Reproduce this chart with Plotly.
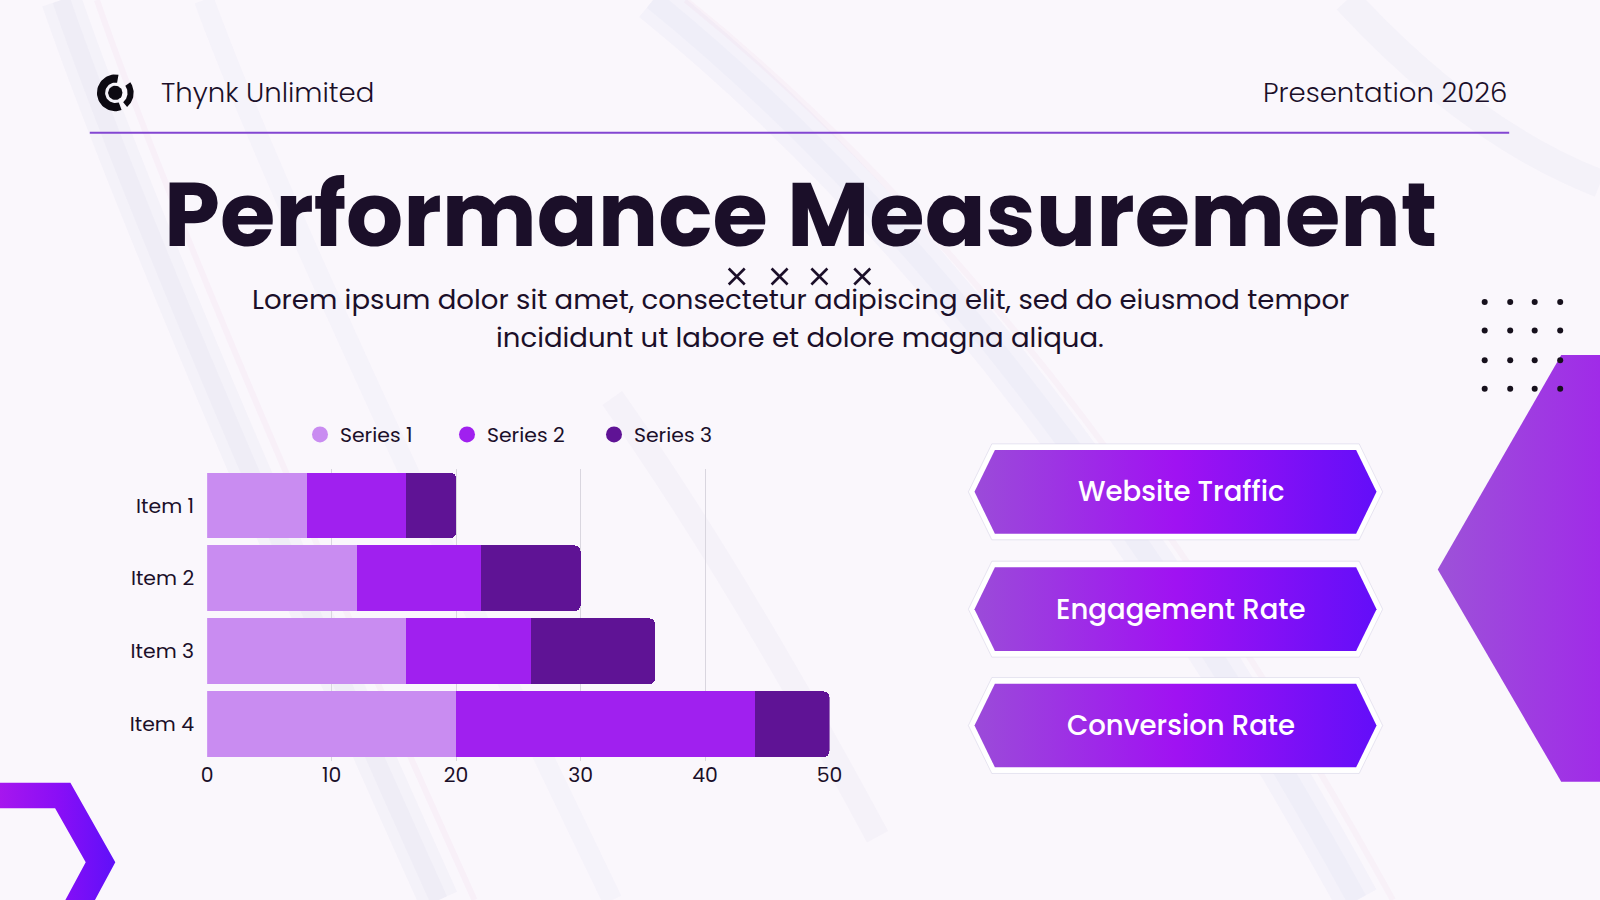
import numpy as np
import plotly.graph_objects as go

# slide grid used for placing decorations (mapped onto the 1600x900 canvas)
W, H = 1568, 882
S = 1600 / W

# chart data
items = ["Item 1", "Item 2", "Item 3", "Item 4"]
series_names = ["Series 1", "Series 2", "Series 3"]
series_1 = [8, 12, 16, 20]
series_2 = [8, 10, 10, 24]
series_3 = [4, 8, 10, 6]
series_colors = ["#c98cf1", "#a020ef", "#5f1395"]
x_ticks = [0, 10, 20, 30, 40, 50]

# right-hand cards
cards = ["Website Traffic", "Engagement Rate", "Conversion Rate"]
card_tops = [441, 556, 670]

FONT = "Poppins, Inter, Lato, sans-serif"
INK = "#1b0f29"


def fx(px):
    return px / W


def fy(py):
    return 1 - py / H


fig = go.Figure()

# stacked bars
for name, vals, col in zip(series_names, [series_1, series_2, series_3], series_colors):
    fig.add_trace(go.Bar(y=items, x=vals, name=name, orientation="h",
                         marker=dict(color=col, line=dict(width=0)),
                         showlegend=False, hoverinfo="x+name"))
# legend entries with round swatches
for name, col in zip(series_names, series_colors):
    fig.add_trace(go.Scatter(x=[None], y=[None], mode="markers", name=name,
                             marker=dict(color=col, size=20, symbol="circle")))


def poly(xs, ys, **kw):
    fig.add_trace(go.Scatter(x=xs + [xs[0]], y=ys + [ys[0]], xaxis="x2", yaxis="y2",
                             mode="lines", fill="toself", line=dict(width=0),
                             hoverinfo="skip", showlegend=False, **kw))


# cards: white halo + gradient hexagon
card_grad = [[0, "#9b4bd9"], [0.5, "#a012f2"], [1, "#630ef9"]]
for top in card_tops:
    mid, bot = top + 41, top + 82
    poly([949, 972, 1332, 1355, 1332, 972], [mid, top - 6, top - 6, mid, bot + 6, bot + 6],
         fillcolor="rgba(255,255,255,0.95)")
    fig.add_trace(go.Scatter(x=[949, 972, 1332, 1355, 1332, 972, 949],
                             y=[mid, top - 6, top - 6, mid, bot + 6, bot + 6, mid],
                             xaxis="x2", yaxis="y2", mode="lines",
                             line=dict(color="rgba(205,200,225,0.45)", width=1),
                             hoverinfo="skip", showlegend=False))
    poly([955, 975, 1329, 1349, 1329, 975], [mid, top, top, mid, bot, bot],
         fillgradient=dict(type="horizontal", colorscale=card_grad, start=955, stop=1349))

# big hexagon on the right edge
poly([W + 2, 1530, 1409, 1530, W + 2], [348, 348, 558, 766, 766],
     fillgradient=dict(type="horizontal", colorscale=[[0, "#9d52d8"], [1, "#a02be8"]],
                       start=1409, stop=W))

# chevron bottom-left
poly([-2, 69, 113, 92, 63, 84, 54, -2], [767, 767, 845, 884, 884, 845, 792, 792],
     fillgradient=dict(type="horizontal", colorscale=[[0, "#a617ee"], [0.5, "#8a0ef6"], [1, "#5f10f9"]],
                       start=0, stop=113))

# dot grid
dot_x = [1455, 1480, 1504, 1529]
dot_y = [296, 324, 353, 381]
gx, gy = np.meshgrid(dot_x, dot_y)
fig.add_trace(go.Scatter(x=gx.ravel(), y=gy.ravel(), xaxis="x2", yaxis="y2", mode="markers",
                         marker=dict(color="#16101c", size=6), hoverinfo="skip", showlegend=False))

# x marks under title
fig.add_trace(go.Scatter(x=[722, 764, 803, 845], y=[271] * 4, xaxis="x2", yaxis="y2", mode="markers",
                         marker=dict(symbol="x-thin", size=16, line=dict(color=INK, width=2.6)),
                         hoverinfo="skip", showlegend=False))

# logo
cx, cy = 113, 91


def arc(r_in, r_out, a0, a1):
    t = np.radians(np.linspace(a0, a1, 40))
    xs = list(cx + r_out * np.cos(t)) + list(cx + r_in * np.cos(t[::-1]))
    ys = list(cy - r_out * np.sin(t)) + list(cy - r_in * np.sin(t[::-1]))
    return xs, ys


for a in [(10, 18, 80, 290), (12, 18, -50, 35)]:
    xs, ys = arc(*a)
    poly(xs, ys, fillcolor="#0d0a12")
t = np.radians(np.linspace(0, 360, 40))
poly(list(cx + 7 * np.cos(t)), list(cy + 7 * np.sin(t)), fillcolor="#0d0a12")

# faint iridescent streaks in the background (paper coords so they sit under everything)


def pp(pts):
    return "M " + " Q ".join(
        [f"{fx(pts[0][0])},{fy(pts[0][1])}"]
        + [f"{fx(a)},{fy(b)} {fx(c)},{fy(d)}" for (a, b), (c, d) in zip(pts[1::2], pts[2::2])])


streaks = [
    ([(60, 0), (150, 260), (430, 882)], 40, "rgba(205,208,232,0.13)"),
    ([(60, 0), (150, 260), (430, 882)], 18, "rgba(205,208,232,0.12)"),
    ([(95, 0), (185, 260), (465, 882)], 6, "rgba(240,200,225,0.14)"),
    ([(200, 0), (280, 220), (600, 882)], 20, "rgba(212,216,238,0.12)"),
    ([(640, 0), (1010, 300), (1330, 882)], 44, "rgba(208,212,236,0.13)"),
    ([(640, 0), (1010, 300), (1330, 882)], 20, "rgba(208,212,236,0.12)"),
    ([(672, 0), (1045, 300), (1365, 882)], 6, "rgba(240,205,225,0.14)"),
    ([(1320, 0), (1440, 130), (1568, 180)], 28, "rgba(212,214,236,0.14)"),
    ([(600, 390), (720, 560), (860, 820)], 24, "rgba(222,212,235,0.14)"),
]
shapes = [dict(type="path", path=pp(p), xref="paper", yref="paper", layer="below",
               line=dict(color=c, width=w)) for p, w, c in streaks]
shapes.append(dict(type="line", xref="paper", yref="paper", x0=fx(88), x1=fx(1479),
                   y0=fy(130), y1=fy(130), line=dict(color="#8346d2", width=2)))

ann = [
    dict(text="Thynk Unlimited", x=fx(156), y=fy(91), xanchor="left", size=27, weight=300),
    dict(text="Presentation 2026", x=fx(1479), y=fy(91), xanchor="right", size=27, weight=300),
    dict(text="Performance Measurement", x=fx(784), y=fy(210), xanchor="center", size=88, weight=700),
    dict(text="Lorem ipsum dolor sit amet, consectetur adipiscing elit, sed do eiusmod tempor",
         x=fx(784), y=fy(294), xanchor="center", size=27, weight=400),
    dict(text="incididunt ut labore et dolore magna aliqua.", x=fx(784), y=fy(331),
         xanchor="center", size=27, weight=400),
]
annotations = [dict(text=a["text"], x=a["x"], y=a["y"], xref="paper", yref="paper",
                    xanchor=a["xanchor"], yanchor="middle", showarrow=False,
                    font=dict(family=FONT, size=a["size"] * S, color=INK, weight=a["weight"]))
               for a in ann]
for label, top in zip(cards, card_tops):
    annotations.append(dict(text=label, x=fx(1157), y=fy(top + 41), xref="paper", yref="paper",
                            showarrow=False, xanchor="center", yanchor="middle",
                            font=dict(family=FONT, size=27 * S, color="white", weight=500)))

fig.update_layout(
    width=1600, height=900,
    margin=dict(l=0, r=0, t=0, b=0),
    paper_bgcolor="#faf7fc",
    plot_bgcolor="rgba(0,0,0,0)",
    barmode="stack", bargap=0.1, barcornerradius=6,
    font=dict(family=FONT, color=INK),
    xaxis=dict(domain=[fx(203), fx(813)], range=[0, 50], tickvals=x_ticks,
               showgrid=True, gridcolor="#d9d6df", gridwidth=1, zeroline=False, showline=False,
               tickfont=dict(size=20 * S, color=INK), fixedrange=True, automargin=False),
    yaxis=dict(domain=[fy(745.5), fy(459.5)], autorange="reversed", showgrid=False,
               tickfont=dict(size=20 * S, color=INK), ticklabelstandoff=12,
               fixedrange=True, automargin=False),
    xaxis2=dict(domain=[0, 1], range=[0, W], visible=False, anchor="y2", fixedrange=True),
    yaxis2=dict(domain=[0, 1], range=[H, 0], visible=False, anchor="x2", fixedrange=True),
    legend=dict(orientation="h", x=fx(294), y=fy(426), xanchor="left", yanchor="middle",
                traceorder="normal", bgcolor="rgba(0,0,0,0)",
                font=dict(size=20 * S, color=INK), entrywidth=102, itemclick=False),
    shapes=shapes,
    annotations=annotations,
)

fig.write_html("out.html", config={"displayModeBar": False},
               post_script="document.body.style.margin='0';")
